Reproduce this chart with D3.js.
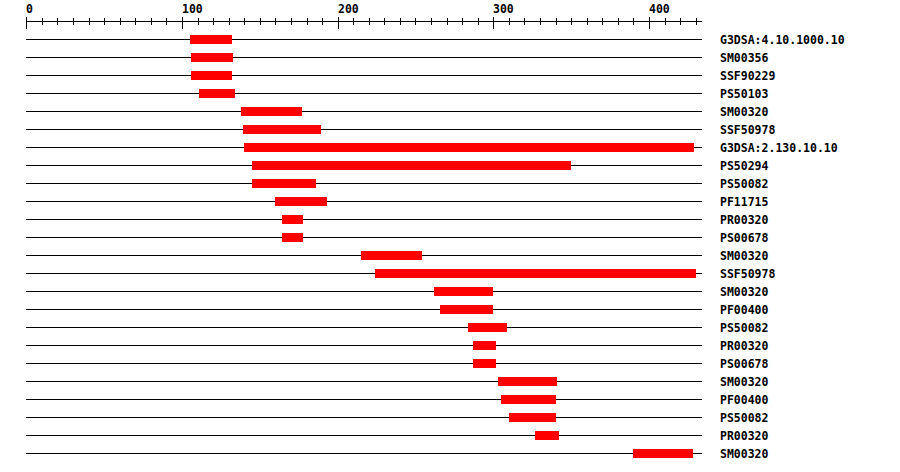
<!DOCTYPE html>
<html>
<head>
<meta charset="utf-8">
<script src="https://cdn.jsdelivr.net/npm/d3@7"></script>
<style>
  html, body { margin: 0; padding: 0; background: #fff; }
  svg { display: block; }
  text { font-family: "DejaVu Sans Mono", "Liberation Mono", monospace; font-weight: bold; font-size: 11.5px; fill: #000; }
</style>
</head>
<body>
<svg id="chart" width="900" height="472"></svg>
<script>
const labels = ["G3DSA:4.10.1000.10","SM00356","SSF90229","PS50103","SM00320","SSF50978",
  "G3DSA:2.130.10.10","PS50294","PS50082","PF11715","PR00320","PS00678","SM00320","SSF50978",
  "SM00320","PF00400","PS50082","PR00320","PS00678","SM00320","PF00400","PS50082","PR00320","SM00320"];
const starts = [105,106,106,111,138,139,140,145,145,160,164,164,215,224,262,266,284,287,287,303,305,310,327,390];
const ends   = [132,133,132,134,177,189,429,350,186,193,178,178,254,430,300,300,309,302,302,341,340,340,342,428];
const seqLength = 434;

const svg = d3.select("#chart");
const x = d3.scaleLinear().domain([0, seqLength]).range([26.3, 701.9]);
const rowY = i => 39.5 + 18 * i;

// axis
const ax = svg.append("g").attr("shape-rendering", "crispEdges");
ax.append("line").attr("x1", x(0)).attr("x2", x(seqLength)).attr("y1", 21.5).attr("y2", 21.5)
  .attr("stroke", "#000").attr("stroke-width", 1);
const minor = x.ticks(43);
ax.selectAll("line.minor").data(minor).join("line").attr("class", "minor")
  .attr("x1", d => Math.round(x(d)) + 0.5).attr("x2", d => Math.round(x(d)) + 0.5)
  .attr("y1", 18).attr("y2", 25).attr("stroke", "#000");
const major = x.ticks(5);
ax.selectAll("line.major").data(major).join("line").attr("class", "major")
  .attr("x1", d => Math.round(x(d)) + 0.5).attr("x2", d => Math.round(x(d)) + 0.5)
  .attr("y1", 17).attr("y2", 29).attr("stroke", "#000");
svg.selectAll("text.tick").data(major).join("text").attr("class", "tick")
  .attr("x", d => Math.round(x(d))).attr("y", 12.5).text(d => d3.format("d")(d));

// rows
const rows = svg.append("g");
labels.forEach((lab, i) => {
  const g = rows.append("g");
  g.append("line").attr("x1", x(0)).attr("x2", x(seqLength))
    .attr("y1", rowY(i)).attr("y2", rowY(i)).attr("stroke", "#000").attr("stroke-width", 1)
    .attr("shape-rendering", "crispEdges");
  g.append("rect").attr("x", x(starts[i])).attr("width", x(ends[i]) - x(starts[i]))
    .attr("y", rowY(i) - 4.5).attr("height", 9).attr("fill", "#ff0000")
    .attr("shape-rendering", "crispEdges");
  g.append("text").attr("x", 720).attr("y", rowY(i) + 4).text(lab);
});
</script>
</body>
</html>
